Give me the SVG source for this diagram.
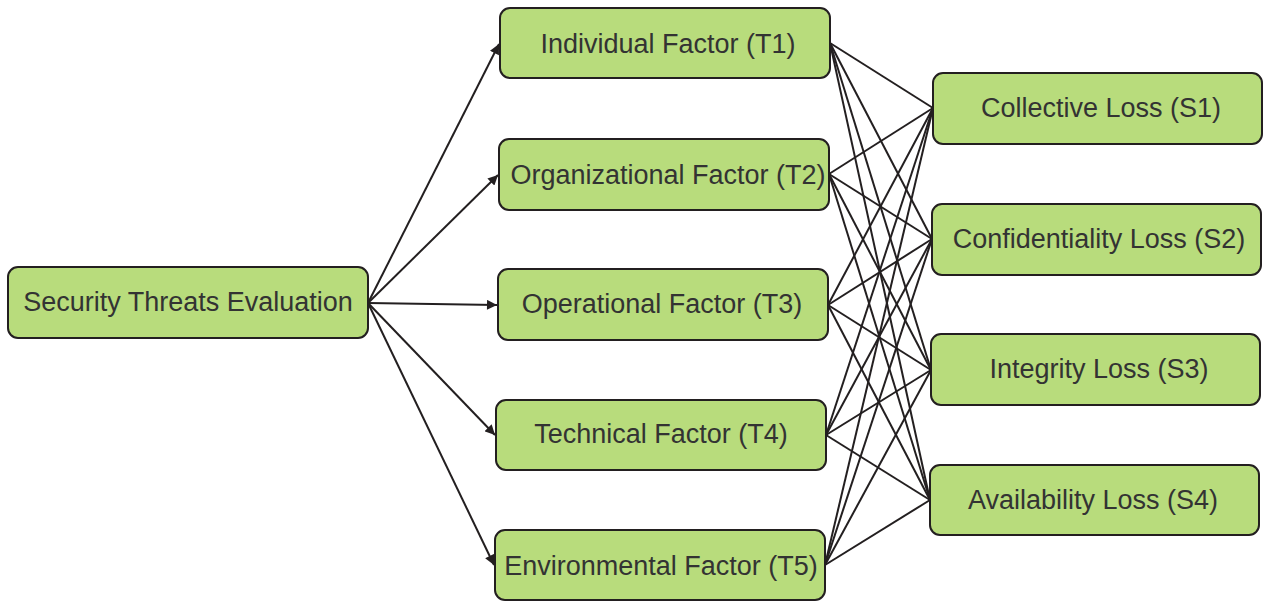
<svg xmlns="http://www.w3.org/2000/svg" width="1263" height="601" viewBox="0 0 1263 601">
  <style>
    .box { fill: #b8dc7c; stroke: #231f20; stroke-width: 2; }
    .lbl { font-family: "Liberation Sans", Arial, sans-serif; font-size: 27px; fill: #333333; text-anchor: middle; dominant-baseline: central; }
    .edge { stroke: #231f20; stroke-width: 2; fill: none; }
  </style>
  <defs>
    <marker id="arrow" viewBox="0 0 10 10" refX="10" refY="5" markerWidth="11" markerHeight="10" markerUnits="userSpaceOnUse" orient="auto">
      <path d="M0,0 L10,5 L0,10 z" fill="#231f20"/>
    </marker>
  </defs>

  <!-- connectors -->
  <g id="connectors">
    <g marker-end="url(#arrow)">
      <line class="edge" x1="368" y1="303" x2="499" y2="44"/>
      <line class="edge" x1="368" y1="303" x2="498" y2="175"/>
      <line class="edge" x1="368" y1="303" x2="497" y2="305"/>
      <line class="edge" x1="368" y1="303" x2="495" y2="435"/>
      <line class="edge" x1="368" y1="303" x2="494" y2="565"/>
    </g>
    <g>
      <!-- T1 -->
      <line class="edge" x1="830" y1="43" x2="933" y2="108"/>
      <line class="edge" x1="830" y1="43" x2="932" y2="239"/>
      <line class="edge" x1="830" y1="43" x2="931" y2="370"/>
      <line class="edge" x1="830" y1="43" x2="930" y2="500"/>
      <!-- T2 -->
      <line class="edge" x1="829" y1="174" x2="933" y2="108"/>
      <line class="edge" x1="829" y1="174" x2="932" y2="239"/>
      <line class="edge" x1="829" y1="174" x2="931" y2="370"/>
      <line class="edge" x1="829" y1="174" x2="930" y2="500"/>
      <!-- T3 -->
      <line class="edge" x1="828" y1="305" x2="933" y2="108"/>
      <line class="edge" x1="828" y1="305" x2="932" y2="239"/>
      <line class="edge" x1="828" y1="305" x2="931" y2="370"/>
      <line class="edge" x1="828" y1="305" x2="930" y2="500"/>
      <!-- T4 -->
      <line class="edge" x1="826" y1="435" x2="933" y2="108"/>
      <line class="edge" x1="826" y1="435" x2="932" y2="239"/>
      <line class="edge" x1="826" y1="435" x2="931" y2="370"/>
      <line class="edge" x1="826" y1="435" x2="930" y2="500"/>
      <!-- T5 -->
      <line class="edge" x1="825" y1="565" x2="933" y2="108"/>
      <line class="edge" x1="825" y1="565" x2="932" y2="239"/>
      <line class="edge" x1="825" y1="565" x2="931" y2="370"/>
      <line class="edge" x1="825" y1="565" x2="930" y2="500"/>
    </g>
  </g>

  <!-- source node -->
  <g id="node-security">
    <rect class="box" x="8" y="267" width="360" height="71" rx="10"/>
    <text class="lbl" x="188" y="302">Security Threats Evaluation</text>
  </g>

  <!-- threat factors -->
  <g id="node-t1">
    <rect class="box" x="500" y="8" width="330" height="70" rx="10"/>
    <text class="lbl" x="668" y="44">Individual Factor (T1)</text>
  </g>
  <g id="node-t2">
    <rect class="box" x="499" y="139" width="330" height="71" rx="10"/>
    <text class="lbl" x="668" y="175">Organizational Factor (T2)</text>
  </g>
  <g id="node-t3">
    <rect class="box" x="498" y="269" width="330" height="71" rx="10"/>
    <text class="lbl" x="662" y="304">Operational Factor (T3)</text>
  </g>
  <g id="node-t4">
    <rect class="box" x="496" y="400" width="330" height="70" rx="10"/>
    <text class="lbl" x="661" y="434">Technical Factor (T4)</text>
  </g>
  <g id="node-t5">
    <rect class="box" x="495" y="530" width="330" height="70" rx="10"/>
    <text class="lbl" x="661" y="566">Environmental Factor (T5)</text>
  </g>

  <!-- losses -->
  <g id="node-s1">
    <rect class="box" x="933" y="73" width="329" height="71" rx="10"/>
    <text class="lbl" x="1101" y="108">Collective Loss (S1)</text>
  </g>
  <g id="node-s2">
    <rect class="box" x="932" y="204" width="329" height="71" rx="10"/>
    <text class="lbl" x="1099" y="239">Confidentiality Loss (S2)</text>
  </g>
  <g id="node-s3">
    <rect class="box" x="931" y="334" width="329" height="71" rx="10"/>
    <text class="lbl" x="1099" y="369">Integrity Loss (S3)</text>
  </g>
  <g id="node-s4">
    <rect class="box" x="930" y="465" width="329" height="70" rx="10"/>
    <text class="lbl" x="1093" y="500">Availability Loss (S4)</text>
  </g>
</svg>
